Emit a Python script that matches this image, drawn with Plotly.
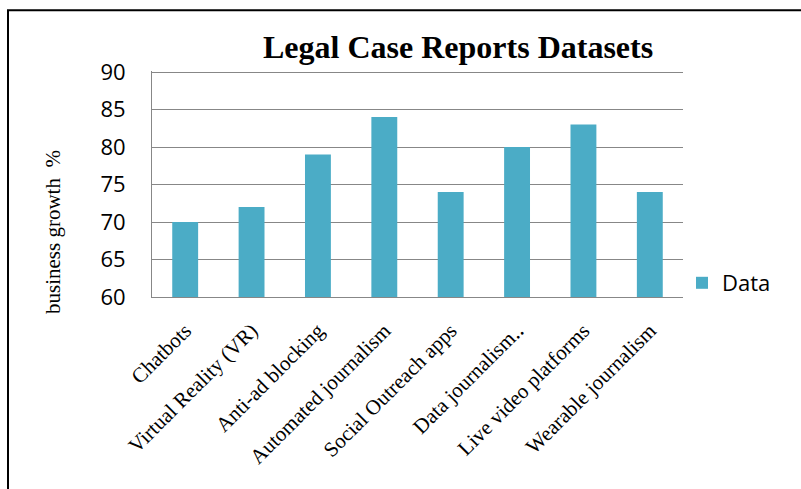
import plotly.graph_objects as go

categories = ["Chatbots", "Virtual Reality (VR)", "Anti-ad blocking", "Automated journalism",
              "Social Outreach apps", "Data journalism\u2025", "Live video platforms", "Wearable journalism"]
values = [70, 72, 79, 84, 74, 80, 83, 74]
y_ticks = [60, 65, 70, 75, 80, 85, 90]
series_name = "Data"
title_text = "Legal Case Reports Datasets"
y_title = "business growth  %"

W, H = 801, 489
L, R, T, B = 152, 683, 71, 297

def px_x(px):
    return (px - L) / (R - L)

def px_y(py):
    return (B - py) / (B - T)

fig = go.Figure()
fig.add_trace(go.Bar(x=categories, y=values, name=series_name,
                     marker=dict(color="#4BACC6", line=dict(width=0))))

fig.update_layout(
    width=W, height=H,
    margin=dict(l=L, r=W - R, t=T, b=H - B, pad=0),
    paper_bgcolor="white", plot_bgcolor="white",
    bargap=0.61,
    showlegend=True,
    legend=dict(x=px_x(682), y=px_y(283), xanchor="left", yanchor="middle",
                font=dict(family="Open Sans", size=22, color="black"),
                bgcolor="rgba(0,0,0,0)"),
    xaxis=dict(type="category", showgrid=False, showline=True, linecolor="#878787", linewidth=1,
               tickangle=-45, tickfont=dict(family="Liberation Serif", size=21, color="black"),
               ticks="", ticklabelstandoff=12),
    yaxis=dict(range=[60, 90.15], tickvals=y_ticks, showgrid=True, gridcolor="#878787", gridwidth=1,
               showline=True, linecolor="#878787", linewidth=1, zeroline=False,
               tickfont=dict(family="Open Sans", size=22, color="black"),
               ticks="", ticklabelstandoff=21),
    annotations=[
        dict(text="<b>" + title_text + "</b>", x=px_x(457.5), y=px_y(47), xref="paper", yref="paper",
             xanchor="center", yanchor="middle", showarrow=False,
             font=dict(family="Liberation Serif", size=32, color="black")),
        dict(text=y_title, x=px_x(53), y=px_y(232), xref="paper", yref="paper",
             xanchor="center", yanchor="middle", showarrow=False, textangle=-90,
             font=dict(family="Liberation Serif", size=21, color="black")),
    ],
    shapes=[
        dict(type="rect", xref="paper", yref="paper",
             x0=px_x(8), x1=px_x(820), y0=px_y(520), y1=px_y(10.3),
             line=dict(color="black", width=2), fillcolor="rgba(0,0,0,0)", layer="above"),
    ],
)

fig.write_html("out.html", config={"displayModeBar": False},
               post_script="document.body.style.margin='0';")
